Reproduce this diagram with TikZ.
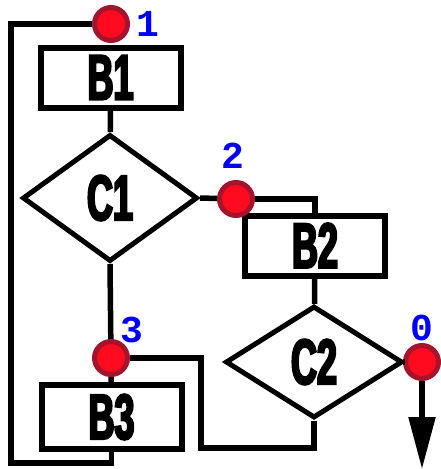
\documentclass[tikz,border=0pt]{standalone}
\usepackage{fontspec}
\usepackage{tikz}
\usetikzlibrary{shapes.geometric, arrows.meta}
\newfontfamily\blockfont[FakeStretch=0.56, FakeBold=3.5]{Liberation Sans Bold}
\newfontfamily\markfont{Liberation Mono Bold}
\definecolor{dotred}{RGB}{255,10,30}
\definecolor{dotrim}{RGB}{165,20,45}
\definecolor{markblue}{RGB}{0,0,255}

\begin{document}
\begin{tikzpicture}[x=1pt, y=-1pt,
    every path/.style={line width=5.5pt},
    block/.style={draw, rectangle, line width=6pt, minimum width=140pt, minimum height=60pt,
      inner sep=0pt, font=\blockfont\fontsize{64}{64}\selectfont},
    test/.style={draw, diamond, line width=5pt, inner sep=0pt,
      font=\blockfont\fontsize{64}{64}\selectfont},
    point/.style={circle, fill=dotred, draw=dotrim, line width=5pt, minimum size=33pt, inner sep=0pt},
    number/.style={text=markblue, font=\markfont\fontsize{38}{38}\selectfont, inner sep=0pt}
  ]
    \useasboundingbox (0,0) rectangle (441,469);

    \node[block] (B1) at (110.5,77.5) {B1};
    \node[test, minimum width=175pt, minimum height=127pt] (C1) at (110,198) {C1};
    \node[block] (B2) at (315,245.5) {B2};
    \node[test, minimum width=177pt, minimum height=112pt] (C2) at (314,362) {C2};
    \node[block, minimum height=64pt] (B3) at (111.5,417) {B3};

    \coordinate (loop) at (11,463);
    \coordinate (back) at (201,448);
    \coordinate (exit) at (422,469);

    % the numbered points
    \node[point] (p1) at (111,24) {};
    \node[point] (p2) at (236,199) {};
    \node[point] (p3) at (111,358) {};
    \node[point] (p0) at (422,362) {};
    \node[number] (n1) at (148,24) {1};
    \node[number] (n2) at (233,156) {2};
    \node[number] (n3) at (132,330) {3};
    \node[number] (n0) at (422,328) {0};

    \draw (B1) -- (C1);
    \draw (C1.east) -- (p2);
    \draw (p2) -| (B2.north);
    \draw (B2) -- (C2);
    \draw (C2.east) -- (p0);
    \draw[-{Triangle[length=52pt, width=26pt]}] (p0) -- (exit);
    \draw (C1.south) -- (p3);
    \draw (p3) -- (B3);
    \draw (C2.south) |- (back) |- (p3);
    \draw (B3.south) |- (loop) |- (p1);
\end{tikzpicture}
\end{document}
